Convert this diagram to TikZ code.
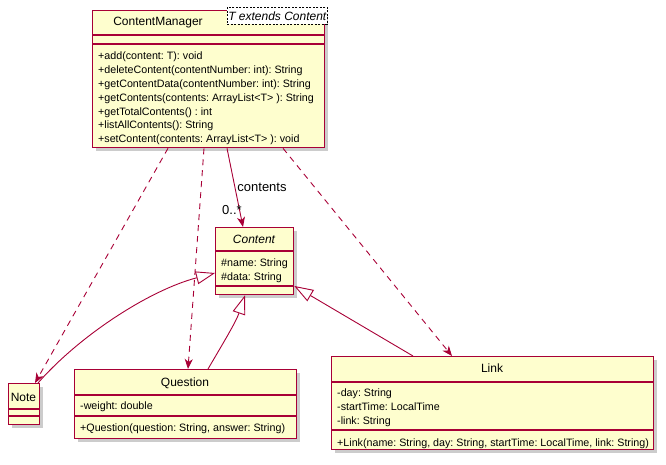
\documentclass[tikz,border=0pt]{standalone}
\usepackage{fontspec}
\setmainfont{Liberation Sans}
\usetikzlibrary{arrows.meta,shadows}
\definecolor{umlfill}{HTML}{FEFECE}
\definecolor{umlline}{HTML}{A80036}
\frenchspacing
\begin{document}
\begin{tikzpicture}[x=1pt,y=-1pt,
  classbox/.style={draw=umlline, line width=1.3pt, fill=umlfill, rectangle,
    inner sep=0pt, anchor=north west,
    drop shadow={shadow xshift=3pt, shadow yshift=-3pt, fill=black!40, opacity=0.5}},
  sepline/.style={draw=umlline, line width=1.1pt},
  classname/.style={font=\fontsize{12}{14}\selectfont, inner sep=0pt},
  members/.style={font=\fontsize{10.7}{13.8}\selectfont, align=left, inner sep=0pt, anchor=north west},
  lbl/.style={font=\fontsize{13}{15}\selectfont, inner sep=0pt},
  dep/.style={draw=umlline, line width=0.9pt, dash pattern=on 6pt off 5pt,
    -{Stealth[length=10pt,width=8pt,inset=3pt]}},
  assoc/.style={draw=umlline, line width=0.9pt, -{Stealth[length=10pt,width=8pt,inset=3pt]}},
  inherit/.style={draw=umlline, line width=0.9pt, -{Triangle[open,length=19pt,width=13pt,fill=white]}}
]
\useasboundingbox (0,0) rectangle (666,465);

% ContentManager
\node[classbox, minimum width=232pt, minimum height=137pt] (cm) at (92,10) {};
\draw[sepline] (92,35) -- (324,35);
\draw[sepline] (92,44) -- (324,44);
\node[classname] (cmname) at (158,23) {ContentManager};
\node[draw=black, line width=0.6pt, dash pattern=on 2pt off 1.5pt, fill=white,
  anchor=north west, minimum width=100pt, minimum height=17pt, inner sep=0pt,
  font=\fontsize{12}{14}\selectfont\itshape] (tmpl) at (227,7) {T extends Content};
\node[members] (cmops) at (98,52) {+add(content: T): void\\
+deleteContent(contentNumber: int): String\\
+getContentData(contentNumber: int): String\\
+getContents(contents: ArrayList<T> ): String\\
+getTotalContents() : int\\
+listAllContents(): String\\
+setContent(contents: ArrayList<T> ): void};

% Content
\node[classbox, minimum width=78pt, minimum height=67pt] (content) at (215,227) {};
\draw[sepline] (215,251) -- (293,251);
\draw[sepline] (215,286) -- (293,286);
\node[classname, font=\fontsize{12}{14}\selectfont\itshape] (contentname) at (254,239) {Content};
\node[members] (contentattrs) at (221,259) {\#name: String\\\#data: String};

% Note
\node[classbox, minimum width=31pt, minimum height=41pt] (note) at (8,383) {};
\draw[sepline] (8,409) -- (39,409);
\draw[sepline] (8,416) -- (39,416);
\node[classname] (notename) at (23.5,397) {Note};

% Question
\node[classbox, minimum width=222pt, minimum height=69pt] (question) at (74,369) {};
\draw[sepline] (74,395) -- (296,395);
\draw[sepline] (74,416) -- (296,416);
\node[classname] (questionname) at (185,383) {Question};
\node[members] (questionattrs) at (80,402) {-weight: double};
\node[members] (questionops) at (80,424) {+Question(question: String, answer: String)};

% Link
\node[classbox, minimum width=322pt, minimum height=93pt] (link) at (331,356) {};
\draw[sepline] (331,382) -- (653,382);
\draw[sepline] (331,430) -- (653,430);
\node[classname] (linkname) at (492,368) {Link};
\node[members] (linkattrs) at (337,389) {-day: String\\-startTime: LocalTime\\-link: String};
\node[members] (linkops) at (337,439) {+Link(name: String, day: String, startTime: LocalTime, link: String)};

% association
\draw[assoc] ([xshift=135pt]cm.south west) -- ([xshift=28pt]content.north west);
\node[lbl] (lblcontents) at (262,187) {contents};
\node[lbl] (lblmult) at (232,210) {0..*};

% dependencies
\draw[dep] ([xshift=76pt]cm.south west) -- ([xshift=27pt]note.north west);
\draw[dep] ([xshift=112pt]cm.south west) -- ([xshift=114pt]question.north west);
\draw[dep] ([xshift=191pt]cm.south west) -- ([xshift=121pt]link.north west);

% generalisations
\draw[inherit] ([xshift=30pt]note.north west) .. controls (80,335) and (150,290) .. ([yshift=-46pt]content.north west);
\draw[inherit] ([xshift=134pt]question.north west) .. controls (222,345) and (236,322) .. ([xshift=30pt]content.south west);
\draw[inherit] ([xshift=82pt]link.north west) -- ([yshift=-59pt]content.north east);
\end{tikzpicture}
\end{document}
